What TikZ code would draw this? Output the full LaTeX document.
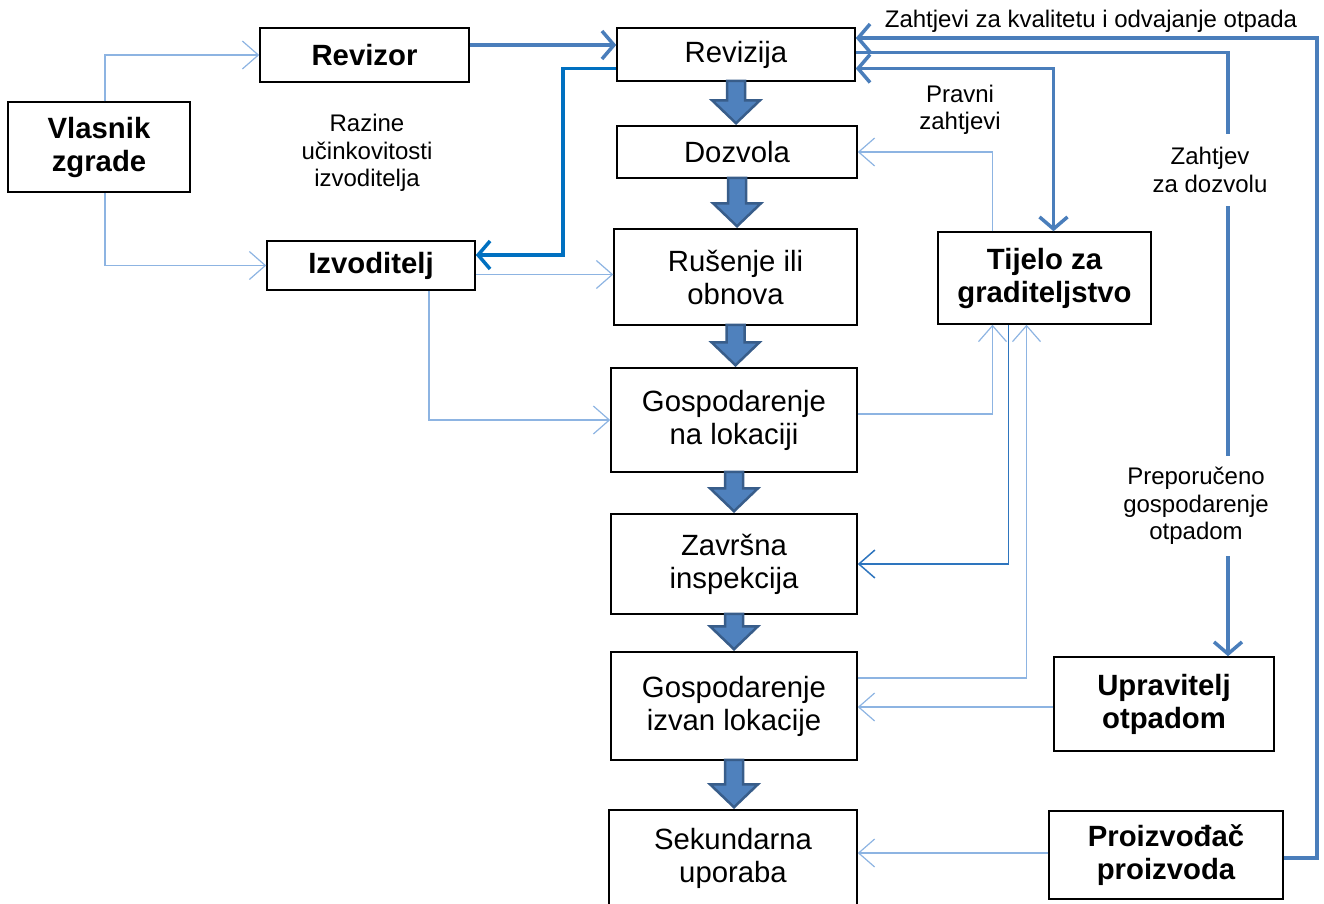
\documentclass[tikz,border=0pt]{standalone}
\usepackage{fontspec}
\setmainfont{Liberation Sans}
\usepackage{tikz}
\usetikzlibrary{arrows,arrows.meta,calc,positioning}
\definecolor{link1}{RGB}{74,126,187}
\definecolor{link2}{RGB}{0,112,192}
\definecolor{link3}{RGB}{141,180,226}
\definecolor{link4}{RGB}{46,117,190}
\definecolor{flowfill}{RGB}{79,129,189}
\definecolor{flowedge}{RGB}{56,93,138}
\tikzset{
  box/.style={draw=black,line width=1.5pt,inner sep=0pt,align=center,
    font=\fontsize{29.3}{33}\selectfont},
  bbox/.style={box,font=\fontsize{29.3}{33}\selectfont\bfseries},
  lbl/.style={align=center,inner sep=1pt,font=\fontsize{24}{27.5}\selectfont},
  softlink/.style={draw=link3,line width=1.2pt,-{Straight Barb[length=16pt,width=28pt]}},
  midlink/.style={draw=link4,line width=1.5pt,-{Straight Barb[length=16pt,width=28pt]}},
  mainlink/.style={draw=link1,line width=3.5pt,-{Straight Barb[length=12pt,width=28pt]}},
  flowarrow/.style={fill=flowfill,draw=flowedge,line width=2.5pt,line join=miter}
}
\newcommand{\flowarrow}[2]{%
  \draw[flowarrow] let \p1=(#1.south), \p2=(#2.north) in
    (\x1-9pt,\y1+1pt) -- (\x1+9pt,\y1+1pt) -- (\x1+9pt,\y2+25pt) -- (\x1+24pt,\y2+25pt)
    -- (\x1,\y2+2pt) -- (\x1-24pt,\y2+25pt) -- (\x1-9pt,\y2+25pt) -- cycle;}

\begin{document}
\begin{tikzpicture}[x=1pt,y=-1pt]
\useasboundingbox (0,0) rectangle (1324,903);

% left side
\node[bbox,minimum width=209pt,minimum height=54pt] (revizor) at (364.5,55) {Revizor};
\node[bbox,minimum width=182pt,minimum height=90pt] (vlasnik) at (99,147) {Vlasnik\\zgrade};
\node[bbox,minimum width=208pt,minimum height=49pt] (izvoditelj) at (371,265.5) {Izvoditelj};
\node[lbl] (razine) at (367,153) {Razine\\učinkovitosti\\izvoditelja};

% main column
\node[box,minimum width=238pt,minimum height=53pt] (revizija) at (736,54.5) {Revizija};
\node[box,minimum width=240pt,minimum height=52pt] (dozvola) at (737,152) {Dozvola};
\node[box,minimum width=243pt,minimum height=96pt] (rusenje) at (735.5,277) {Rušenje ili\\obnova};
\node[box,minimum width=246pt,minimum height=104pt] (gosplok) at (734,420) {Gospodarenje\\na lokaciji};
\node[box,minimum width=246pt,minimum height=100pt] (zavrsna) at (734,564) {Završna\\inspekcija};
\node[box,minimum width=246pt,minimum height=108pt] (gospizvan) at (734,706) {Gospodarenje\\izvan lokacije};
\node[box,minimum width=248pt,minimum height=96pt] (sekundarna) at (733,858) {Sekundarna\\uporaba};

% right side
\node[bbox,minimum width=213pt,minimum height=92pt] (tijelo) at (1044.5,278) {Tijelo za\\graditeljstvo};
\node[bbox,minimum width=220pt,minimum height=94pt] (upravitelj) at (1164,704) {Upravitelj\\otpadom};
\node[bbox,minimum width=234pt,minimum height=88pt] (proizvodac) at (1166,855) {Proizvođač\\proizvoda};

\flowarrow{revizija}{dozvola}
\flowarrow{dozvola}{rusenje}
\flowarrow{rusenje}{gosplok}
\flowarrow{gosplok}{zavrsna}
\flowarrow{zavrsna}{gospizvan}
\flowarrow{gospizvan}{sekundarna}

% thin links
\draw[softlink] ([xshift=6pt]vlasnik.north) |- (revizor.west);
\draw[softlink] ([xshift=6pt]vlasnik.south) |- (izvoditelj.west);
\draw[softlink] ([yshift=-9pt]izvoditelj.east) -- ([yshift=-9pt]izvoditelj.east -| rusenje.west);
\draw[softlink] ([xshift=58pt]izvoditelj.south) |- (gosplok.west);
\draw[softlink] ([xshift=-52pt]tijelo.north) |- (dozvola.east);
\draw[softlink] ([yshift=6pt]gosplok.east) -| ([xshift=-52pt]tijelo.south);
\draw[midlink] ([xshift=-36pt]tijelo.south) |- (zavrsna.east);
\draw[softlink] ([yshift=28pt]gospizvan.east) -| ([xshift=-18pt]tijelo.south);
\draw[softlink] ([yshift=-3pt]upravitelj.west) -- ([yshift=-3pt]upravitelj.west -| gospizvan.east);
\draw[softlink] ([yshift=2pt]proizvodac.west) -- ([yshift=2pt]proizvodac.west -| sekundarna.east);

% thick links
\coordinate (bend1) at (563,255);
\coordinate (corner1) at (1317,38);
\draw[mainlink] ([yshift=10pt]revizor.east) -- ([yshift=10pt]revizor.east -| revizija.west);
\draw[mainlink,draw=link2] ([yshift=-14pt]revizija.west) -| (bend1) -- (bend1 -| izvoditelj.east);
\draw[mainlink] ([yshift=-3pt]proizvodac.east) -| (corner1) -- (corner1 -| revizija.east);
\draw[mainlink] ([yshift=2pt]revizija.east) -| ([xshift=64pt]upravitelj.north);
\draw[mainlink,{Straight Barb[length=12pt,width=28pt]}-{Straight Barb[length=12pt,width=28pt]}]
  ([yshift=-14pt]revizija.east) -| ([xshift=9pt]tijelo.north);

% labels on the links
\node[lbl] (kvaliteta) at (1091,21) {Zahtjevi za kvalitetu i odvajanje otpada};
\node[lbl] (pravni) at (960,110) {Pravni\\zahtjevi};
\node[lbl,fill=white,inner ysep=13pt] (zahtjev) at (1210,170) {Zahtjev\\za dozvolu};
\node[lbl,fill=white,inner ysep=11pt] (preporuka) at (1196,506) {Preporučeno\\gospodarenje\\otpadom};
\end{tikzpicture}
\end{document}
